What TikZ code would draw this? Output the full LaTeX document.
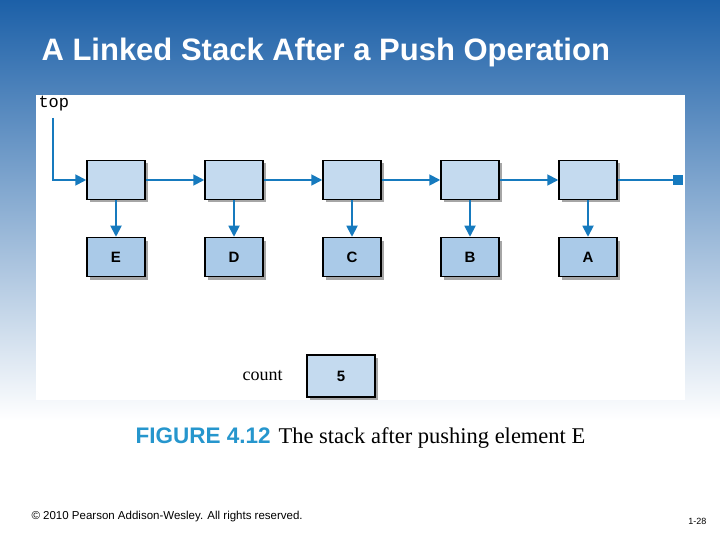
\documentclass[tikz,border=0pt]{standalone}
\usepackage{fontspec}
\setmainfont{Liberation Serif}
\setsansfont{Liberation Sans}
\setmonofont{Liberation Mono}
\usetikzlibrary{arrows.meta,positioning}
\definecolor{slideblue}{RGB}{28,96,168}
\definecolor{linkblue}{RGB}{22,122,190}
\definecolor{nodefill}{RGB}{196,218,239}
\definecolor{datafill}{RGB}{170,202,232}
\definecolor{capblue}{RGB}{38,150,205}

\tikzset{
  cell/.style={draw=black,line width=1.5pt,minimum width=58pt,minimum height=39pt,inner sep=0pt,
    font=\sffamily\bfseries\fontsize{15}{17}\selectfont,
    preaction={fill=black!35,transform canvas={shift={(3pt,-3pt)}}}},
  link/.style={draw=linkblue,line width=1.8pt,-{Triangle[length=11pt,width=11pt]}}
}

\begin{document}
\begin{tikzpicture}[x=1pt,y=-1pt]
  \useasboundingbox (0,0) rectangle (720,540);
  % background:
  \shade[top color=slideblue,bottom color=white] (0,0) rectangle (720,420);
  \fill[white] (0,420) rectangle (720,540);
  \fill[white] (36,95) rectangle (685,400);
  \node[anchor=west,text=white,font=\sffamily\bfseries\fontsize{31}{35}\selectfont] (title) at (38,52) {A Linked Stack After a Push Operation};

  \node[anchor=west,font=\ttfamily\fontsize{17}{19}\selectfont] (top) at (35,104) {top};
  \coordinate (topstart) at (53,118);
  % nodes:
  \foreach \name/\letter [count=\i from 0] in {e/E,d/D,c/C,b/B,a/A} {
    \node[cell,fill=nodefill] (n\name) at (116+118*\i,180) {};
    \node[cell,fill=datafill] (v\name) at (116+118*\i,257) {\letter};
    \draw[link] (n\name) -- (v\name);
  }
  \draw[link] (topstart) |- (ne);
  \draw[link] (ne) -- (nd);
  \draw[link] (nd) -- (nc);
  \draw[link] (nc) -- (nb);
  \draw[link] (nb) -- (na);
  \coordinate (nullend) at (678,180);
  \draw[draw=linkblue,line width=1.8pt] (na) -- (nullend);
  \fill[linkblue] (nullend) ++(-5,-5) rectangle ++(10,10);

  \node[cell,fill=nodefill,minimum width=68pt,minimum height=42pt] (count) at (341,376) {5};
  \node[left=20pt of count,font=\fontsize{18}{20}\selectfont] (countlabel) {count};

  \node[anchor=west,font=\fontsize{22.5}{26}\selectfont] (caption) at (132,438)
    {{\sffamily\bfseries\color{capblue}FIGURE 4.12}\hspace{8pt}The stack after pushing element E};

  \node[anchor=west,font=\sffamily\fontsize{11.5}{13}\selectfont] (footer) at (28,517) {© 2010 Pearson Addison-Wesley. All rights reserved.};
  \node[anchor=east,font=\sffamily\fontsize{9}{11}\selectfont] (page) at (710,521) {1-28};
\end{tikzpicture}
\end{document}
